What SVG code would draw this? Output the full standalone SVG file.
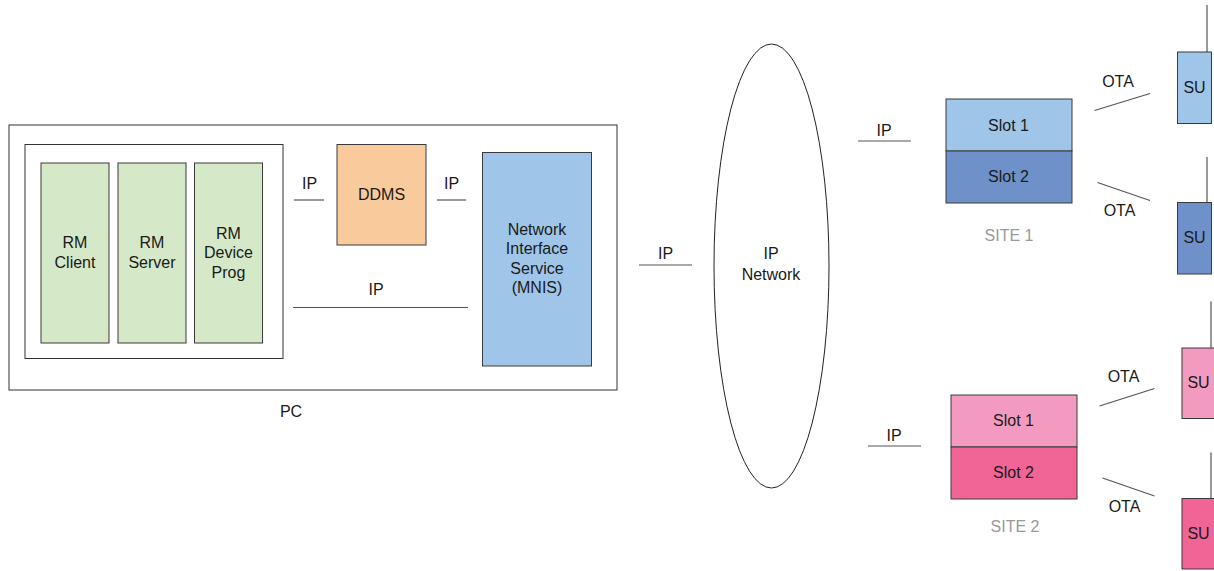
<svg xmlns="http://www.w3.org/2000/svg" width="1214" height="571" viewBox="0 0 1214 571">
<style>
text{font-family:"Liberation Sans",Arial,sans-serif;font-size:16px;fill:#1a1a1a;text-anchor:middle}
.gray{fill:#999999}
.box{stroke:#3a3a3a;stroke-width:1}
.frame{fill:#ffffff;stroke:#333333;stroke-width:1}
.ln{stroke:#555555;stroke-width:1.2;fill:none}
</style>
<rect width="1214" height="571" fill="#ffffff"/>
<g id="pc">
<rect class="frame" x="9" y="125" width="608" height="265"/>
<text x="291" y="417">PC</text>
</g>
<g id="rm-group">
<rect class="frame" x="25" y="144.5" width="258" height="214"/>
</g>
<g id="rm-client">
<rect class="box" x="41" y="163" width="68" height="180" fill="#d5e8c8"/>
<text x="75" y="248">RM</text><text x="75" y="267.5">Client</text>
</g>
<g id="rm-server">
<rect class="box" x="118" y="163" width="68" height="180" fill="#d5e8c8"/>
<text x="152" y="248">RM</text><text x="152" y="267.5">Server</text>
</g>
<g id="rm-device-prog">
<rect class="box" x="194.5" y="163" width="68" height="180" fill="#d5e8c8"/>
<text x="228.5" y="238.5">RM</text><text x="228.5" y="258">Device</text><text x="228.5" y="277.5">Prog</text>
</g>
<g id="ddms">
<rect class="box" x="337" y="144.5" width="89" height="100.5" fill="#f9cb9c"/>
<text x="381.5" y="200">DDMS</text>
</g>
<g id="mnis">
<rect class="box" x="482.5" y="152.5" width="109" height="213.5" fill="#9fc5e8"/>
<text x="537" y="234.5">Network</text><text x="537" y="254">Interface</text><text x="537" y="273.5">Service</text><text x="537" y="293">(MNIS)</text>
</g>
<g id="ip-network">
<ellipse cx="771.5" cy="266" rx="57.5" ry="222" fill="#ffffff" stroke="#222222" stroke-width="1"/>
<text x="771" y="259">IP</text><text x="771" y="280">Network</text>
</g>
<g id="site1">
<rect class="box" x="946" y="99" width="126" height="52" fill="#9fc5e8"/>
<text x="1008.5" y="130.5">Slot 1</text>
<rect class="box" x="946" y="151" width="126" height="52" fill="#6f91ca"/>
<text x="1008.5" y="182">Slot 2</text>
<text class="gray" x="1009" y="241">SITE 1</text>
</g>
<g id="site2">
<rect class="box" x="951" y="395" width="126" height="52" fill="#f39ac0"/>
<text x="1013.5" y="426">Slot 1</text>
<rect class="box" x="951" y="447" width="126" height="52" fill="#f06595"/>
<text x="1013.5" y="477.5">Slot 2</text>
<text class="gray" x="1015" y="532">SITE 2</text>
</g>
<g id="su1">
<line class="ln" x1="1207" y1="5" x2="1207" y2="52"/>
<rect class="box" x="1177.5" y="52" width="34" height="71.5" fill="#9fc5e8"/>
<text x="1194.5" y="93">SU</text>
</g>
<g id="su2">
<line class="ln" x1="1207" y1="157" x2="1207" y2="202.5"/>
<rect class="box" x="1177.5" y="202.5" width="34" height="71.5" fill="#6f91ca"/>
<text x="1194.5" y="243">SU</text>
</g>
<g id="su3">
<line class="ln" x1="1211" y1="301.5" x2="1211" y2="348"/>
<rect class="box" x="1182" y="348" width="40" height="70.5" fill="#f39ac0"/>
<text x="1198.5" y="388">SU</text>
</g>
<g id="su4">
<line class="ln" x1="1211" y1="452.5" x2="1211" y2="498.5"/>
<rect class="box" x="1182" y="498.5" width="40" height="70.5" fill="#f06595"/>
<text x="1198.5" y="538.5">SU</text>
</g>
<g id="connectors">
<line class="ln" x1="294" y1="200" x2="324" y2="200"/>
<text x="309.5" y="189">IP</text>
<line class="ln" x1="437" y1="200" x2="466" y2="200"/>
<text x="451.5" y="189">IP</text>
<line class="ln" x1="293" y1="307.5" x2="468" y2="307.5"/>
<text x="376" y="294.5">IP</text>
<line class="ln" x1="639" y1="265" x2="692" y2="265"/>
<text x="665.5" y="259">IP</text>
<line class="ln" x1="858" y1="141" x2="911" y2="141"/>
<text x="884" y="136">IP</text>
<line class="ln" x1="868" y1="446" x2="921" y2="446"/>
<text x="894" y="441">IP</text>
<line class="ln" x1="1094.5" y1="110.5" x2="1150" y2="93.5"/>
<text x="1118" y="87">OTA</text>
<line class="ln" x1="1097.5" y1="182.5" x2="1150" y2="200.5"/>
<text x="1119.5" y="215.5">OTA</text>
<line class="ln" x1="1099.5" y1="406" x2="1154.5" y2="388.5"/>
<text x="1123.5" y="382">OTA</text>
<line class="ln" x1="1102.5" y1="478" x2="1154.5" y2="496"/>
<text x="1124.5" y="512">OTA</text>
</g>
</svg>
